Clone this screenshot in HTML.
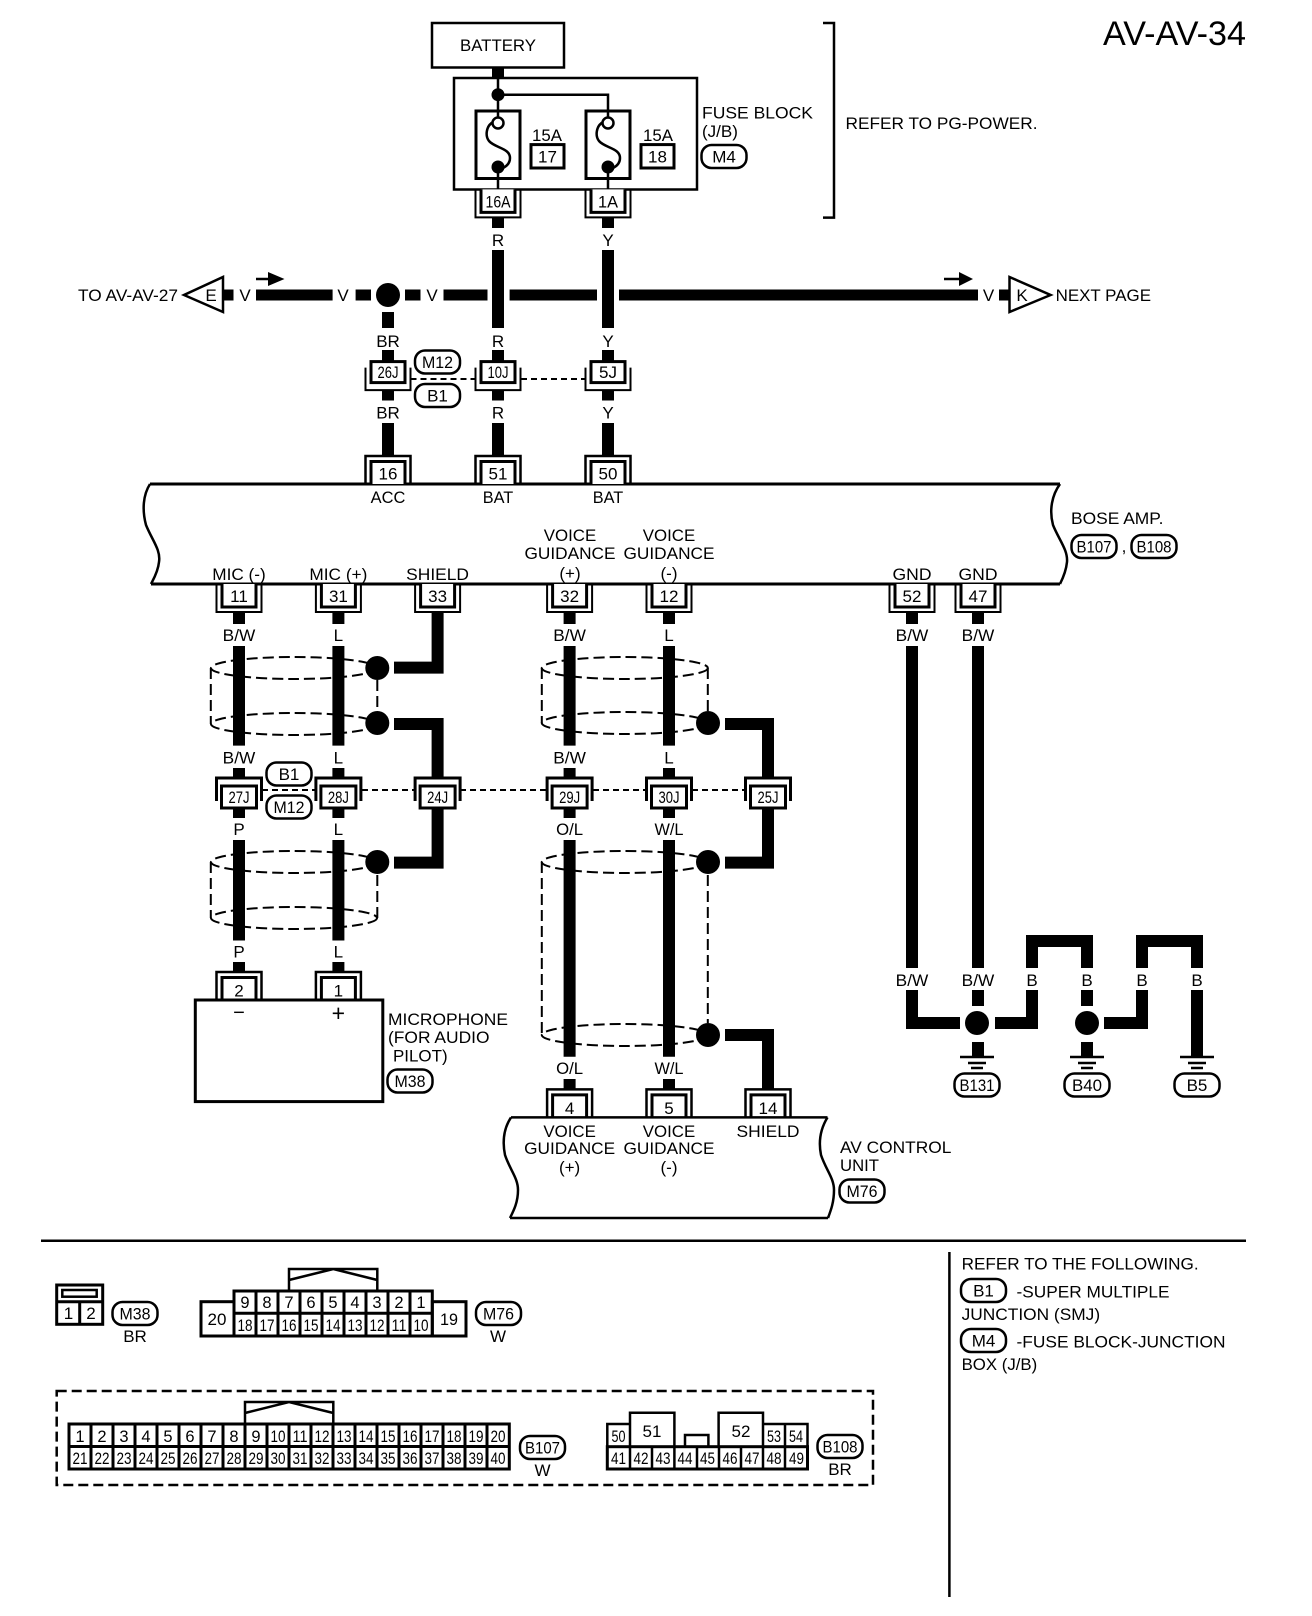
<!DOCTYPE html>
<html>
<head>
<meta charset="utf-8">
<style>
html,body{margin:0;padding:0;background:#fff}
svg{display:block}
text{font-family:"Liberation Sans",sans-serif;font-size:17px;fill:#000;text-anchor:middle}
.s{text-anchor:start}
.n{font-size:16.5px}
.w{fill:none;stroke:#000;stroke-width:12}
.h{fill:none;stroke:#000;stroke-width:11}
.l{fill:none;stroke:#000;stroke-width:2.5}
.o{fill:none;stroke:#000;stroke-width:2}
.g{fill:none;stroke:#000;stroke-width:3}
.d{fill:none;stroke:#000;stroke-width:2;stroke-dasharray:6 4}
.e{fill:none;stroke:#000;stroke-width:2;stroke-dasharray:11 5}
.b{fill:#fff;stroke:#000;stroke-width:2.5}
.c{fill:#fff;stroke:#000;stroke-width:3}
</style>
</head>
<body>
<svg width="1312" height="1616" viewBox="0 0 1312 1616" xmlns="http://www.w3.org/2000/svg">
<defs>
<g id="cu"><path class="o" d="M-22.5 0V28H22.5V0"/><path class="c" d="M-17 0V23H17V0"/></g>
<g id="t"><path class="o" d="M-22.5 0V-28H22.5V0" style="stroke-width:2.5"/><path class="c" d="M-17 0V-22.5H17V0"/></g>
<g id="j"><path class="o" d="M-22.5 6V28.5H22.5V6"/><rect class="c" x="-17" y="0" width="34" height="21"/></g>
<g id="i"><path class="g" d="M-22.5 23V0H22.5V23"/><rect class="c" x="-17.5" y="8" width="35" height="22"/></g>
<g id="g"><path class="l" d="M-17 0H17M-9 6H9M-6 11H6"/></g>
<rect id="p" class="b" x="-22.5" y="-11.5" width="45" height="23" rx="10"/>
</defs>

<!-- title -->
<text x="1103" y="45" class="s" style="font-size:34.5px" textLength="143" lengthAdjust="spacingAndGlyphs">AV-AV-34</text>

<!-- battery & fuse block -->
<rect class="b" x="432" y="23" width="132" height="44.5"/>
<text x="498" y="51" textLength="76" lengthAdjust="spacingAndGlyphs">BATTERY</text>
<path class="w" d="M498 67V78"/>
<rect class="l" x="454" y="78" width="243" height="111.5"/>
<rect class="g" x="476" y="111" width="44" height="67.5"/>
<rect class="g" x="586" y="111" width="44" height="67.5"/>
<path class="l" d="M498 78V117M498 94.7H608V117M498 167V189M608 167V189"/>
<path class="l" d="M493 122C486 126 485 136 489 141C495 148 510 148 510 158C510 163 507 166 503 168"/>
<path class="l" d="M603 122C596 126 595 136 599 141C605 148 620 148 620 158C620 163 617 166 613 168"/>
<circle cx="498" cy="94.7" r="6.5"/>
<circle cx="498" cy="123" r="5.5" fill="#fff" stroke="#000" stroke-width="2.5"/>
<circle cx="608" cy="123" r="5.5" fill="#fff" stroke="#000" stroke-width="2.5"/>
<circle cx="498" cy="167" r="6.5"/>
<circle cx="608" cy="167" r="6.5"/>
<text x="547" y="141" textLength="30" lengthAdjust="spacingAndGlyphs">15A</text>
<rect class="c" x="531" y="144.6" width="33" height="23.4"/>
<text x="547.5" y="162.7">17</text>
<text x="658" y="141" textLength="30" lengthAdjust="spacingAndGlyphs">15A</text>
<rect class="c" x="641" y="144.6" width="33" height="23.4"/>
<text x="657.5" y="162.7">18</text>
<text x="702" y="118.5" class="s" textLength="111" lengthAdjust="spacingAndGlyphs">FUSE BLOCK</text>
<text x="702" y="137" class="s">(J/B)</text>
<use href="#p" x="724" y="156.5"/><text x="724" y="162.5">M4</text>
<path class="l" d="M823 23H834V217.6H823"/>
<text x="845.5" y="129" class="s" textLength="192" lengthAdjust="spacingAndGlyphs">REFER TO PG-POWER.</text>

<use href="#cu" x="498" y="189.4"/><text class="n" x="498" y="207.5" textLength="25" lengthAdjust="spacingAndGlyphs">16A</text>
<use href="#cu" x="608" y="189.4"/><text class="n" x="608" y="207.5" textLength="20" lengthAdjust="spacingAndGlyphs">1A</text>

<!-- top wires -->
<path class="w" d="M498 217.6V228M608 217.6V228M498 250V328M608 250V328M388 312V328M388 350V362M498 350V362M608 350V362M388 390V400.5M498 390V400.5M608 390V400.5M388 423V456M498 423V456M608 423V456"/>
<path class="h" d="M223 295H233.5M256 295H332.6M355.6 295H371M405 295H420.5M443.5 295H487.5M509.6 295H597M619 295H978M999 295H1009.5"/>
<circle cx="388" cy="295" r="12"/>
<path class="b" d="M223 277V312L184 295Z"/>
<path class="b" d="M1009.5 277V312L1050.6 295Z"/>
<text x="211" y="301">E</text>
<text x="1022" y="301">K</text>
<text x="78" y="301" class="s" textLength="100" lengthAdjust="spacingAndGlyphs">TO AV-AV-27</text>
<text x="1055.6" y="301" class="s" textLength="95.4" lengthAdjust="spacingAndGlyphs">NEXT PAGE</text>
<text x="245" y="301">V</text><text x="343" y="301">V</text><text x="432" y="301">V</text><text x="988.6" y="301">V</text>
<path class="l" d="M256 279H270M944 279H960"/>
<path d="M268 272L284.5 279L268 286ZM959 272L973 279L959 286Z"/>

<text x="498" y="246">R</text><text x="608" y="246">Y</text>
<text x="388" y="347">BR</text><text x="498" y="347">R</text><text x="608" y="347">Y</text>
<text x="388" y="418.5">BR</text><text x="498" y="418.5">R</text><text x="608" y="418.5">Y</text>

<path class="d" d="M410.5 379H476M521 379H586"/>
<use href="#j" x="388" y="361.6"/><text class="n" x="388" y="378" textLength="21" lengthAdjust="spacingAndGlyphs">26J</text>
<use href="#j" x="498" y="361.6"/><text class="n" x="498" y="378" textLength="21" lengthAdjust="spacingAndGlyphs">10J</text>
<use href="#j" x="608" y="361.6"/><text class="n" x="608" y="378" textLength="18" lengthAdjust="spacingAndGlyphs">5J</text>
<use href="#p" x="437.5" y="362"/><text x="437.5" y="368" textLength="31" lengthAdjust="spacingAndGlyphs">M12</text>
<use href="#p" x="437.5" y="395.5"/><text x="437.5" y="401.5">B1</text>

<!-- Bose amp body -->
<path class="l" d="M150 484H1060M151 584H1060" style="stroke-width:3"/>
<path class="l" d="M150 484C143 495 142 510 146 525C152 540 161 550 159 562C158 572 153 580 151 584"/>
<path class="l" d="M1060 484C1052 495 1049 510 1053 525C1059 540 1068 550 1067 562C1066 572 1062 580 1060 584"/>
<use href="#t" x="388" y="484"/><text x="388" y="479.5">16</text>
<use href="#t" x="498" y="484"/><text x="498" y="479.5">51</text>
<use href="#t" x="608" y="484"/><text x="608" y="479.5">50</text>
<text x="388" y="503" textLength="34.7" lengthAdjust="spacingAndGlyphs">ACC</text><text x="498" y="503" textLength="30.5" lengthAdjust="spacingAndGlyphs">BAT</text><text x="608" y="503" textLength="30.5" lengthAdjust="spacingAndGlyphs">BAT</text>
<text x="1071" y="524" class="s" textLength="92.5" lengthAdjust="spacingAndGlyphs">BOSE AMP.</text>
<use href="#p" x="1094" y="546.5"/><text x="1094" y="552.5" textLength="35" lengthAdjust="spacingAndGlyphs">B107</text>
<text x="1124" y="552">,</text>
<use href="#p" x="1154" y="546.5"/><text x="1154" y="552.5" textLength="35" lengthAdjust="spacingAndGlyphs">B108</text>
<text x="239" y="580" textLength="53.5" lengthAdjust="spacingAndGlyphs">MIC (-)</text><text x="338.4" y="580" textLength="58" lengthAdjust="spacingAndGlyphs">MIC (+)</text><text x="437.6" y="580" textLength="62.8" lengthAdjust="spacingAndGlyphs">SHIELD</text>
<text x="570" y="541" textLength="52.5" lengthAdjust="spacingAndGlyphs">VOICE</text><text x="669" y="541" textLength="52.5" lengthAdjust="spacingAndGlyphs">VOICE</text>
<text x="570" y="559" textLength="91" lengthAdjust="spacingAndGlyphs">GUIDANCE</text><text x="669" y="559" textLength="91" lengthAdjust="spacingAndGlyphs">GUIDANCE</text>
<text x="570" y="579">(+)</text><text x="669" y="579">(-)</text>
<text x="912" y="580" textLength="39" lengthAdjust="spacingAndGlyphs">GND</text><text x="978" y="580" textLength="39" lengthAdjust="spacingAndGlyphs">GND</text>

<use href="#cu" x="239" y="584"/><text x="239" y="602">11</text>
<use href="#cu" x="338.4" y="584"/><text x="338.4" y="602">31</text>
<use href="#cu" x="437.6" y="584"/><text x="437.6" y="602">33</text>
<use href="#cu" x="569.6" y="584"/><text x="569.6" y="602">32</text>
<use href="#cu" x="669" y="584"/><text x="669" y="602">12</text>
<use href="#cu" x="912" y="584"/><text x="912" y="602">52</text>
<use href="#cu" x="978" y="584"/><text x="978" y="602">47</text>

<!-- shields -->
<ellipse class="e" cx="294" cy="668" rx="83" ry="11"/>
<ellipse class="e" cx="294" cy="724" rx="83" ry="11"/>
<path class="e" d="M210.8 668V724M377.3 680V711"/>
<ellipse class="e" cx="294" cy="862" rx="83" ry="11"/>
<ellipse class="e" cx="294" cy="918" rx="83" ry="11"/>
<path class="e" d="M210.8 862V918M377.3 875V918"/>
<ellipse class="e" cx="624.8" cy="668" rx="83" ry="11"/>
<ellipse class="e" cx="624.8" cy="723" rx="83" ry="11"/>
<path class="e" d="M541.8 668V723M707.8 668V711"/>
<ellipse class="e" cx="624.8" cy="862" rx="83" ry="11"/>
<ellipse class="e" cx="624.8" cy="1035" rx="83" ry="11"/>
<path class="e" d="M541.8 862V1035M707.8 875V1023"/>

<!-- middle wires -->
<path class="w" d="M239 612V624M338.4 612V624M569.6 612V624M669 612V624M912 612V624M978 612V624
M239 646V745.6M338.4 646V745.6M569.6 646V745.6M669 646V745.6
M239 768V778M338.4 768V778M569.6 768V778M669 768V778
M239 806V818M338.4 806V818M569.6 806V818M669 806V818
M239 840V940.5M338.4 840V940.5M239 962V972M338.4 962V972
M569.6 840V1056.7M669 840V1056.7M569.6 1079V1090M669 1079V1090
M437.6 612V667.6H394M394 724H437.6V778M437.6 806V862.6H394
M725 724H768V778M768 806V862.6H725M725 1035H768V1090
M912 646V968M978 646V968M912 990V1023H960M978 990V1006M978 1042V1057
M995 1023H1032V990M1032 968V941H1087V968M1087 990V1006M1087 1042V1057
M1104 1023H1142V990M1142 968V941H1197V968M1197 990V1057"/>
<circle cx="377.3" cy="668" r="12"/><circle cx="377.3" cy="723" r="12"/><circle cx="377.3" cy="862" r="12"/>
<circle cx="708" cy="723" r="12"/><circle cx="708" cy="862" r="12"/><circle cx="708" cy="1035" r="12"/>
<circle cx="977" cy="1023" r="12"/><circle cx="1087" cy="1023" r="12"/>

<!-- wire labels -->
<text x="239" y="641" textLength="32.6" lengthAdjust="spacingAndGlyphs">B/W</text><text x="338.4" y="641">L</text><text x="569.6" y="641" textLength="32.6" lengthAdjust="spacingAndGlyphs">B/W</text><text x="669" y="641">L</text><text x="912" y="641" textLength="32.6" lengthAdjust="spacingAndGlyphs">B/W</text><text x="978" y="641" textLength="32.6" lengthAdjust="spacingAndGlyphs">B/W</text>
<text x="239" y="763.6" textLength="32.6" lengthAdjust="spacingAndGlyphs">B/W</text><text x="338.4" y="763.6">L</text><text x="569.6" y="763.6" textLength="32.6" lengthAdjust="spacingAndGlyphs">B/W</text><text x="669" y="763.6">L</text>
<text x="239" y="835">P</text><text x="338.4" y="835">L</text><text x="569.6" y="835" textLength="27" lengthAdjust="spacingAndGlyphs">O/L</text><text x="669" y="835" textLength="29" lengthAdjust="spacingAndGlyphs">W/L</text>
<text x="239" y="957.5">P</text><text x="338.4" y="957.5">L</text>
<text x="569.6" y="1074" textLength="27" lengthAdjust="spacingAndGlyphs">O/L</text><text x="669" y="1074" textLength="29" lengthAdjust="spacingAndGlyphs">W/L</text>
<text x="912" y="986" textLength="32.6" lengthAdjust="spacingAndGlyphs">B/W</text><text x="978" y="986" textLength="32.6" lengthAdjust="spacingAndGlyphs">B/W</text><text x="1032" y="986">B</text><text x="1087" y="986">B</text><text x="1142" y="986">B</text><text x="1197" y="986">B</text>

<!-- J row -->
<path class="d" d="M262 790H316M362 790H415M460 790H547M593 790H646M692 790H745.5"/>
<use href="#i" x="239" y="778"/><text class="n" x="239" y="803" textLength="21" lengthAdjust="spacingAndGlyphs">27J</text>
<use href="#i" x="338.4" y="778"/><text class="n" x="338.4" y="803" textLength="21" lengthAdjust="spacingAndGlyphs">28J</text>
<use href="#i" x="437.6" y="778"/><text class="n" x="437.6" y="803" textLength="21" lengthAdjust="spacingAndGlyphs">24J</text>
<use href="#i" x="569.6" y="778"/><text class="n" x="569.6" y="803" textLength="21" lengthAdjust="spacingAndGlyphs">29J</text>
<use href="#i" x="669" y="778"/><text class="n" x="669" y="803" textLength="21" lengthAdjust="spacingAndGlyphs">30J</text>
<use href="#i" x="768" y="778"/><text class="n" x="768" y="803" textLength="21" lengthAdjust="spacingAndGlyphs">25J</text>
<use href="#p" x="289" y="774"/><text x="289" y="780">B1</text>
<use href="#p" x="289" y="807"/><text x="289" y="813" textLength="31" lengthAdjust="spacingAndGlyphs">M12</text>

<!-- microphone -->
<use href="#t" x="239" y="1000"/><text x="239" y="996.5">2</text>
<use href="#t" x="338.4" y="1000"/><text x="338.4" y="996.5">1</text>
<rect class="l" x="195.3" y="1000" width="187.5" height="101.6" style="stroke-width:3"/>
<text x="239" y="1019" style="font-size:20px">−</text><text x="338.4" y="1021" style="font-size:23px">+</text>
<text x="388" y="1025" class="s" textLength="120" lengthAdjust="spacingAndGlyphs">MICROPHONE</text>
<text x="388" y="1043" class="s" textLength="101.5" lengthAdjust="spacingAndGlyphs">(FOR AUDIO</text>
<text x="393" y="1061.5" class="s" textLength="54.6" lengthAdjust="spacingAndGlyphs">PILOT)</text>
<use href="#p" x="410" y="1081"/><text x="410" y="1087" textLength="31" lengthAdjust="spacingAndGlyphs">M38</text>

<!-- AV control unit -->
<use href="#t" x="569.6" y="1117.4"/><text x="569.6" y="1114">4</text>
<use href="#t" x="669" y="1117.4"/><text x="669" y="1114">5</text>
<use href="#t" x="768" y="1117.4"/><text x="768" y="1114">14</text>
<path class="l" d="M511 1117.4H827.5M510 1218H828"/>
<path class="l" d="M511 1117.4C504 1128 502 1140 505 1155C510 1170 518 1178 518 1190C518 1202 514 1210 510 1218"/>
<path class="l" d="M827.5 1117.4C821 1128 818 1140 821 1155C826 1170 834 1178 834 1190C834 1202 831 1210 828 1218"/>
<text x="569.6" y="1137" textLength="52.5" lengthAdjust="spacingAndGlyphs">VOICE</text><text x="669" y="1137" textLength="52.5" lengthAdjust="spacingAndGlyphs">VOICE</text><text x="768" y="1137" textLength="63" lengthAdjust="spacingAndGlyphs">SHIELD</text>
<text x="569.6" y="1154" textLength="91" lengthAdjust="spacingAndGlyphs">GUIDANCE</text><text x="669" y="1154" textLength="91" lengthAdjust="spacingAndGlyphs">GUIDANCE</text>
<text x="569.6" y="1173">(+)</text><text x="669" y="1173">(-)</text>
<text x="840" y="1153" class="s" textLength="111.4" lengthAdjust="spacingAndGlyphs">AV CONTROL</text><text x="840" y="1171" class="s" textLength="39" lengthAdjust="spacingAndGlyphs">UNIT</text>
<use href="#p" x="862" y="1191"/><text x="862" y="1197" textLength="31" lengthAdjust="spacingAndGlyphs">M76</text>

<!-- grounds -->
<use href="#g" x="977" y="1057"/><use href="#g" x="1087" y="1057"/><use href="#g" x="1197" y="1057"/>
<use href="#p" x="977" y="1085"/><text x="977" y="1091" textLength="35" lengthAdjust="spacingAndGlyphs">B131</text>
<use href="#p" x="1087" y="1085"/><text x="1087" y="1091" textLength="30" lengthAdjust="spacingAndGlyphs">B40</text>
<use href="#p" x="1197" y="1085"/><text x="1197" y="1091">B5</text>

<!-- separators -->
<path class="l" d="M41 1240.7H1246M949.4 1252V1597"/>

<!-- M38 connector -->
<rect class="g" x="56.7" y="1285" width="46" height="39.3"/>
<path class="g" d="M56.7 1301.7H102.7M79.7 1301.7V1324"/>
<rect class="l" x="62.3" y="1290" width="34.4" height="6.7"/>
<text x="68.5" y="1319">1</text><text x="91" y="1319">2</text>
<use href="#p" x="135" y="1313.5"/><text x="135" y="1319.5" textLength="31" lengthAdjust="spacingAndGlyphs">M38</text>
<text x="135" y="1342">BR</text>

<!-- M76 connector -->
<rect class="g" x="201" y="1301.7" width="33" height="34.3"/>
<rect class="g" x="432.3" y="1301.7" width="33.7" height="34.3"/>
<rect class="g" x="234" y="1291" width="198.3" height="45"/>
<path class="g" d="M234 1313.3H432M256 1291V1336M278 1291V1336M300 1291V1336M322 1291V1336M344 1291V1336M366 1291V1336M388 1291V1336M410 1291V1336"/>
<path class="l" d="M289 1291V1269H377.3V1291M289 1280L333.3 1269L377.3 1280"/>
<text x="217" y="1325">20</text><text x="449" y="1325" textLength="18" lengthAdjust="spacingAndGlyphs">19</text>
<text class="n" x="245" y="1308">9</text><text class="n" x="267" y="1308">8</text><text class="n" x="289" y="1308">7</text><text class="n" x="311" y="1308">6</text><text class="n" x="333" y="1308">5</text><text class="n" x="355" y="1308">4</text><text class="n" x="377" y="1308">3</text><text class="n" x="399" y="1308">2</text><text class="n" x="421" y="1308">1</text>
<text class="n" x="245" y="1331" textLength="15" lengthAdjust="spacingAndGlyphs">18</text><text class="n" x="267" y="1331" textLength="15" lengthAdjust="spacingAndGlyphs">17</text><text class="n" x="289" y="1331" textLength="15" lengthAdjust="spacingAndGlyphs">16</text><text class="n" x="311" y="1331" textLength="15" lengthAdjust="spacingAndGlyphs">15</text><text class="n" x="333" y="1331" textLength="15" lengthAdjust="spacingAndGlyphs">14</text><text class="n" x="355" y="1331" textLength="15" lengthAdjust="spacingAndGlyphs">13</text><text class="n" x="377" y="1331" textLength="15" lengthAdjust="spacingAndGlyphs">12</text><text class="n" x="399" y="1331" textLength="15" lengthAdjust="spacingAndGlyphs">11</text><text class="n" x="421" y="1331" textLength="15" lengthAdjust="spacingAndGlyphs">10</text>
<use href="#p" x="498.5" y="1313.5"/><text x="498.5" y="1319.5" textLength="31" lengthAdjust="spacingAndGlyphs">M76</text>
<text x="498" y="1342">W</text>

<!-- dashed box -->
<rect x="56.7" y="1391" width="816.3" height="94" fill="none" stroke="#000" stroke-width="2.5" stroke-dasharray="10 5"/>

<!-- B107 -->
<rect class="g" x="69" y="1424" width="440.3" height="45"/>
<path class="g" d="M69 1446.5H509M91 1424V1469M113 1424V1469M135 1424V1469M157 1424V1469M179 1424V1469M201 1424V1469M223 1424V1469M245 1424V1469M267 1424V1469M289 1424V1469M311 1424V1469M333 1424V1469M355 1424V1469M377 1424V1469M399 1424V1469M421 1424V1469M443 1424V1469M465 1424V1469M487 1424V1469"/>
<path class="l" d="M245 1424V1402H333.3V1424M245 1413L289 1402L333.3 1413"/>
<text class="n" x="80" y="1442">1</text><text class="n" x="102" y="1442">2</text><text class="n" x="124" y="1442">3</text><text class="n" x="146" y="1442">4</text><text class="n" x="168" y="1442">5</text><text class="n" x="190" y="1442">6</text><text class="n" x="212" y="1442">7</text><text class="n" x="234" y="1442">8</text><text class="n" x="256" y="1442">9</text>
<text class="n" x="278" y="1442" textLength="15" lengthAdjust="spacingAndGlyphs">10</text><text class="n" x="300" y="1442" textLength="15" lengthAdjust="spacingAndGlyphs">11</text><text class="n" x="322" y="1442" textLength="15" lengthAdjust="spacingAndGlyphs">12</text><text class="n" x="344" y="1442" textLength="15" lengthAdjust="spacingAndGlyphs">13</text><text class="n" x="366" y="1442" textLength="15" lengthAdjust="spacingAndGlyphs">14</text><text class="n" x="388" y="1442" textLength="15" lengthAdjust="spacingAndGlyphs">15</text><text class="n" x="410" y="1442" textLength="15" lengthAdjust="spacingAndGlyphs">16</text><text class="n" x="432" y="1442" textLength="15" lengthAdjust="spacingAndGlyphs">17</text><text class="n" x="454" y="1442" textLength="15" lengthAdjust="spacingAndGlyphs">18</text><text class="n" x="476" y="1442" textLength="15" lengthAdjust="spacingAndGlyphs">19</text><text class="n" x="498" y="1442" textLength="15" lengthAdjust="spacingAndGlyphs">20</text>
<text class="n" x="80" y="1464" textLength="15" lengthAdjust="spacingAndGlyphs">21</text><text class="n" x="102" y="1464" textLength="15" lengthAdjust="spacingAndGlyphs">22</text><text class="n" x="124" y="1464" textLength="15" lengthAdjust="spacingAndGlyphs">23</text><text class="n" x="146" y="1464" textLength="15" lengthAdjust="spacingAndGlyphs">24</text><text class="n" x="168" y="1464" textLength="15" lengthAdjust="spacingAndGlyphs">25</text><text class="n" x="190" y="1464" textLength="15" lengthAdjust="spacingAndGlyphs">26</text><text class="n" x="212" y="1464" textLength="15" lengthAdjust="spacingAndGlyphs">27</text><text class="n" x="234" y="1464" textLength="15" lengthAdjust="spacingAndGlyphs">28</text><text class="n" x="256" y="1464" textLength="15" lengthAdjust="spacingAndGlyphs">29</text><text class="n" x="278" y="1464" textLength="15" lengthAdjust="spacingAndGlyphs">30</text><text class="n" x="300" y="1464" textLength="15" lengthAdjust="spacingAndGlyphs">31</text><text class="n" x="322" y="1464" textLength="15" lengthAdjust="spacingAndGlyphs">32</text><text class="n" x="344" y="1464" textLength="15" lengthAdjust="spacingAndGlyphs">33</text><text class="n" x="366" y="1464" textLength="15" lengthAdjust="spacingAndGlyphs">34</text><text class="n" x="388" y="1464" textLength="15" lengthAdjust="spacingAndGlyphs">35</text><text class="n" x="410" y="1464" textLength="15" lengthAdjust="spacingAndGlyphs">36</text><text class="n" x="432" y="1464" textLength="15" lengthAdjust="spacingAndGlyphs">37</text><text class="n" x="454" y="1464" textLength="15" lengthAdjust="spacingAndGlyphs">38</text><text class="n" x="476" y="1464" textLength="15" lengthAdjust="spacingAndGlyphs">39</text><text class="n" x="498" y="1464" textLength="15" lengthAdjust="spacingAndGlyphs">40</text>
<use href="#p" x="542.5" y="1447.5"/><text x="542.5" y="1453.5" textLength="35" lengthAdjust="spacingAndGlyphs">B107</text>
<text x="542.5" y="1476">W</text>

<!-- B108 -->
<rect class="g" x="607.3" y="1446.7" width="200.2" height="22.3"/>
<path class="l" d="M630 1447V1469M652 1447V1469M674.4 1447V1469M697 1447V1469M719 1447V1469M741 1447V1469M763 1447V1469M785 1447V1469"/>
<path class="l" d="M607.3 1447V1424H630V1447M630 1447V1412.7H674.4V1447M685 1447V1435H708.4V1447M718.6 1447V1412.7H763V1447M763 1424H807.5V1447M785 1424V1447"/>
<text class="n" x="618.5" y="1442" textLength="14" lengthAdjust="spacingAndGlyphs">50</text>
<text x="652" y="1437">51</text><text x="741" y="1437">52</text>
<text class="n" x="774" y="1442" textLength="14" lengthAdjust="spacingAndGlyphs">53</text><text class="n" x="796" y="1442" textLength="14" lengthAdjust="spacingAndGlyphs">54</text>
<text class="n" x="618.5" y="1464" textLength="15" lengthAdjust="spacingAndGlyphs">41</text><text class="n" x="641" y="1464" textLength="15" lengthAdjust="spacingAndGlyphs">42</text><text class="n" x="663" y="1464" textLength="15" lengthAdjust="spacingAndGlyphs">43</text><text class="n" x="685" y="1464" textLength="15" lengthAdjust="spacingAndGlyphs">44</text><text class="n" x="707.5" y="1464" textLength="15" lengthAdjust="spacingAndGlyphs">45</text><text class="n" x="730" y="1464" textLength="15" lengthAdjust="spacingAndGlyphs">46</text><text class="n" x="752" y="1464" textLength="15" lengthAdjust="spacingAndGlyphs">47</text><text class="n" x="774" y="1464" textLength="15" lengthAdjust="spacingAndGlyphs">48</text><text class="n" x="796.5" y="1464" textLength="15" lengthAdjust="spacingAndGlyphs">49</text>
<use href="#p" x="840" y="1446.5"/><text x="840" y="1452.5" textLength="35" lengthAdjust="spacingAndGlyphs">B108</text>
<text x="840" y="1475">BR</text>

<!-- notes -->
<text x="961.6" y="1269.3" class="s" textLength="237" lengthAdjust="spacingAndGlyphs">REFER TO THE FOLLOWING.</text>
<use href="#p" x="983.5" y="1290.5"/><text x="983.5" y="1296.5">B1</text>
<text x="1016.5" y="1297.7" class="s" textLength="153" lengthAdjust="spacingAndGlyphs">-SUPER MULTIPLE</text>
<text x="961.6" y="1320" class="s" textLength="138.5" lengthAdjust="spacingAndGlyphs">JUNCTION (SMJ)</text>
<use href="#p" x="983.5" y="1340.5"/><text x="983.5" y="1346.5">M4</text>
<text x="1016.5" y="1347.7" class="s" textLength="209" lengthAdjust="spacingAndGlyphs">-FUSE BLOCK-JUNCTION</text>
<text x="961.6" y="1370" class="s" textLength="75.6" lengthAdjust="spacingAndGlyphs">BOX (J/B)</text>
</svg>
</body>
</html>
